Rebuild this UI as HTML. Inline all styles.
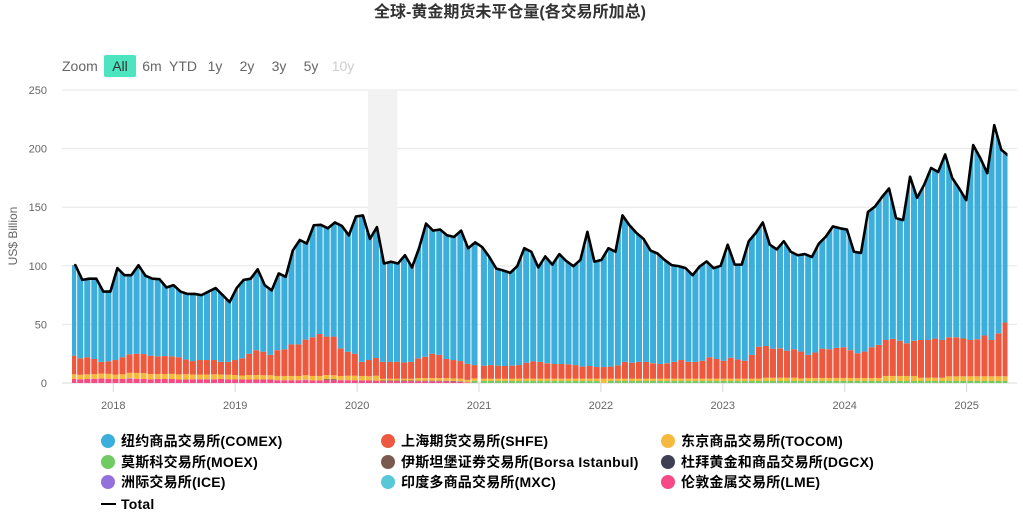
<!DOCTYPE html>
<html lang="zh">
<head>
<meta charset="utf-8">
<title>全球-黄金期货未平仓量(各交易所加总)</title>
<style>
html,body{margin:0;padding:0;background:#fff;}
body{width:1023px;height:513px;overflow:hidden;}
svg{display:block;}
text{font-family:"Liberation Sans","Noto Sans CJK SC",sans-serif;}
.rs{font-size:14px;fill:#666;text-anchor:middle;}
.lg{font-size:14px;font-weight:bold;fill:#000;letter-spacing:0.2px;}
.ax{font-size:11px;fill:#666;}
</style>
</head>
<body>
<svg id="chart" xmlns="http://www.w3.org/2000/svg" width="1023" height="513" viewBox="0 0 1023 513">
  <rect x="0" y="0" width="1023" height="513" fill="#fff"/>
  <text x="510" y="17" text-anchor="middle" font-size="16" font-weight="bold" fill="#333">全球-黄金期货未平仓量(各交易所加总)</text>

  <g>
    <text x="62" y="71" font-size="14" fill="#666">Zoom</text>
    <g>
      <rect x="104" y="55" width="32" height="22" rx="2" fill="#4de5c0"/>
      <text class="rs" x="120" y="71" style="fill:#333">All</text>
    </g>
    <text class="rs" x="152" y="71">6m</text>
    <text class="rs" x="183" y="71">YTD</text>
    <text class="rs" x="215" y="71">1y</text>
    <text class="rs" x="247" y="71">2y</text>
    <text class="rs" x="279" y="71">3y</text>
    <text class="rs" x="311" y="71">5y</text>
    <text class="rs" x="343" y="71" style="fill:#ccc">10y</text>
  </g>

  <g id="grid"></g>
  <g id="bands"></g>
  <g id="bars"></g>
  <g id="axes"></g>
  <g id="lineLayer"></g>

  <text transform="translate(17,236) rotate(-90)" text-anchor="middle" font-size="12" fill="#666">US$ Billion</text>

  <g>
    <g><circle cx="108" cy="441" r="7" fill="#3baedb"/><text class="lg" x="121" y="446">纽约商品交易所(COMEX)</text></g>
    <g><circle cx="388" cy="441" r="7" fill="#ec593e"/><text class="lg" x="401" y="446">上海期货交易所(SHFE)</text></g>
    <g><circle cx="668" cy="441" r="7" fill="#f6b93f"/><text class="lg" x="681" y="446">东京商品交易所(TOCOM)</text></g>
    <g><circle cx="108" cy="462" r="7" fill="#70cb62"/><text class="lg" x="121" y="467">莫斯科交易所(MOEX)</text></g>
    <g><circle cx="388" cy="462" r="7" fill="#7a5a4e"/><text class="lg" x="401" y="467">伊斯坦堡证券交易所(Borsa Istanbul)</text></g>
    <g><circle cx="668" cy="462" r="7" fill="#3e3f55"/><text class="lg" x="681" y="467">杜拜黄金和商品交易所(DGCX)</text></g>
    <g><circle cx="108" cy="482" r="7" fill="#9370db"/><text class="lg" x="121" y="487">洲际交易所(ICE)</text></g>
    <g><circle cx="388" cy="482" r="7" fill="#56c8d8"/><text class="lg" x="401" y="487">印度多商品交易所(MXC)</text></g>
    <g><circle cx="668" cy="482" r="7" fill="#f54a85"/><text class="lg" x="681" y="487">伦敦金属交易所(LME)</text></g>
    <g><rect x="101" y="503" width="15" height="2" fill="#000"/><text class="lg" x="121" y="509">Total</text></g>
  </g>
</svg>

<script>
var yTicks = [0, 50, 100, 150, 200, 250];
var yearTicks = [2018, 2019, 2020, 2021, 2022, 2023, 2024, 2025];
var shadedYears = [2020.09, 2020.33];

var total = [
100.6,88,89,89,78,78,98,92,92,100.5,91.5,89,88.6,81.5,83.5,78,76,76,75,78,81,75,69,81,88,89,97,83.5,79,93.5,90.6,113,122,119,134.6,135,132,137,134,126,142,143,123,133,
102,103.5,102,109,98.6,115,136,130,131,126,124.7,130,115,120,116,107.7,97.7,96,94,99.7,115,112,98.6,108,101,110,104,99.7,105,129,103.5,105,115,112,143,134.6,128,123,113,110.5,105,100.6,99.7,98,92,
99.4,103.7,98,100,118,101,101,121,128,137,118,114,121,112,109,110,107.5,119,125,133.6,132,131,112,111,146,150.6,158.7,166,140.7,139,176,158,169,183.5,180,195,175,166,156,203,192,179,220,199,194
];
var comex = [
77.3,67,67,68.5,60,59.5,78.4,70,68,75.5,66.8,65.7,65.9,58.5,60.8,56,56,57.3,55.4,58.4,61.4,57,51,61.4,67,64,69,56.8,55,65.5,61.9,80,89,82.4,95.6,93.2,93,98,104.5,99.3,117,125,103.4,111.7,
84,85.5,84,91.4,80.6,94,113.6,105,107,105.5,105.1,111.3,98.2,104.7,101.2,92.4,82.9,81.5,79.2,84.4,97.7,93.5,80.6,91.2,84.8,93.8,88,84.4,91,114.5,89.9,91.4,101,97,125,117.3,110,105,96.2,94.3,88.2,82.6,80.1,80,74,
80.4,81.7,77.5,81,96.4,81,82,97,97,105.4,88.7,84.4,93.4,83.2,82.2,86,81.5,89.7,96.2,103.6,101.5,103,86.6,84.2,115.5,118.1,122,128.4,104.7,105.1,140,121.3,132.3,145.6,143.3,156,136,128,119.3,165.7,151.5,142.3,177.6,147.4
];
var shfe = [
15.9,14,14.6,12.9,9.9,10.7,12.4,14.6,15.8,16.4,16.3,15.6,15.1,15.3,14.9,14.7,12.5,11.5,12.4,12.4,12.2,10.8,11,12.8,14.6,18.2,21.2,20.1,17.4,22,22.7,27,27,30.4,33,35.8,32.8,33,23.5,20.5,18.8,12,13.8,15.1,
14.4,14.4,14.4,14,14.4,16.8,18.2,20.8,19.8,16.4,15.7,15,13.6,11.4,
11.1,11.6,11.1,10.8,11.1,11.6,13.6,14.8,14.3,13.1,12.5,12.5,12.3,11.6,10.3,10.8,9.9,9.9,10.3,11.3,14.3,13.6,14.3,14.3,13.1,12.5,13.1,14.3,15.9,14.3,14.3,
15.3,18.3,16.8,15.3,17.9,16.3,15.3,20.3,27.3,27.1,24.8,25.1,23.1,24.3,22.9,19.7,21.7,25,24.5,25.7,26.2,23.7,21.1,22.5,26.2,28.2,30.7,31.6,30,27.9,30,32.2,32.2,33.4,32.2,33.3,33.3,32.3,31,31.6,34.8,31,36.7,45.9
];
var tocom = [
4,3.8,4,4,4.3,4.2,3.8,4,4.6,5,5,4.5,4.2,4.3,4.4,4.3,4.5,4,4,4,4.2,3.8,3.8,3.8,3.4,3.8,3.8,3.6,3.6,3.6,3.6,3.6,3.6,3.8,3.8,3.8,3.8,3.6,3.6,3.8,3.8,3.8,3.6,4.2,
1.5,1.5,1.5,1.5,1.5,2.2,2.2,2.2,2.2,2.2,2.2,2.2,2.2,2,
2,2,2,2,2,2,2,2,2,2,2,2,2,2,2,2,2,3.7,2,2,2,2,2,2,2,2,2,2,2,2,2,
2,2,2,2,2,2,2,2,2,2.8,2.8,2.8,2.8,2.8,2.2,2.6,2.6,2.6,2.6,2.6,2.6,2.6,2.6,2.6,2.6,2.6,4.3,4.3,4.3,4.3,4.3,2.8,2.8,2.8,2.8,4,4,4,4,4,4,4,4,4
];
var moex = [
0,0,0,0,0,0,0,0,0,0,0,0,0,0,0,0,0,0,0,0,0,0,0,0,0,0,0,0,0,0,0,0,0,0,0,0,0,0,0,0,0,0,0,0,
0,0,0,0,0,0,0,0,0,0,0,0,0,1.7,
1.7,1.7,1.7,1.7,1.7,1.7,1.7,1.7,1.7,1.7,1.7,1.7,1.7,1.7,1.7,1.7,1.7,0,1.7,1.7,1.7,1.7,1.7,1.7,1.7,1.7,1.7,1.7,1.7,1.7,1.7,
1.7,1.7,1.7,1.7,1.7,1.7,1.7,1.7,1.7,1.7,1.7,1.7,1.7,1.7,1.7,1.7,1.7,1.7,1.7,1.7,1.7,1.7,1.7,1.7,1.7,1.7,1.7,1.7,1.7,1.7,1.7,1.7,1.7,1.7,1.7,1.7,1.7,1.7,1.7,1.7,1.7,1.7,1.7,1.7
];
var lme = [
3.4,3.2,3.4,3.6,3.8,3.6,3.4,3.4,3.6,3.6,3.4,3.2,3.4,3.4,3.4,3,3,3.2,3.2,3.2,3.2,3.4,3.2,3,3,3,3,3,3,2.4,2.4,2.4,2.4,2.4,2.2,2.2,2.4,2.4,2.4,2.4,2.4,2.2,2.2,2,
1.6,1.6,1.6,1.6,1.6,1.5,1.5,1.5,1.5,1.4,1.2,1,0.5,0.2,
0,0,0,0,0,0,0,0,0,0,0,0,0,0,0,0,0,0,0,0,0,0,0,0,0,0,0,0,0,0,0,
0,0,0,0,0,0,0,0,0,0,0,0,0,0,0,0,0,0,0,0,0,0,0,0,0,0,0,0,0,0,0,0,0,0,0,0,0,0,0,0,0,0,0,0
];
var borsa = [
0,0,0,0,0,0,0,0,0,0,0,0,0,0,0,0,0,0,0,0,0,0,0,0,0,0,0,0,0,0,0,0,0,0,0,0,0,0,0,0,0,0,0,0,
0.5,0.5,0.5,0.5,0.5,0.5,0.5,0.5,0.5,0.5,0.5,0.5,0,0
];
var dgcx = [0,0,0,0,0,0,0,0,0,0,0,0,0,0,0,0,0,0,0,0,0,0,0,0,0,0,0,0,0,0,0,0,0,0,0,0,0.6,0.6];
var ice = [0,0,0,0,0,0,0,0,0.5,0,0,0,0,0,0,0,0,0,0,0,0,0,0,0,0,0,0,0,0,0,0,0,0,0.4];
var mxc = [0];

var stackOrder = [
  {key: 'lme', values: lme, color: '#f54a85'},
  {key: 'mxc', values: mxc, color: '#56c8d8'},
  {key: 'ice', values: ice, color: '#9370db'},
  {key: 'dgcx', values: dgcx, color: '#3e3f55'},
  {key: 'borsa', values: borsa, color: '#7a5a4e'},
  {key: 'moex', values: moex, color: '#70cb62'},
  {key: 'tocom', values: tocom, color: '#f6b93f'},
  {key: 'shfe', values: shfe, color: '#ec593e'},
  {key: 'comex', values: comex, color: '#3baedb'}
];

var NS = 'http://www.w3.org/2000/svg';
function yScale(v) { return 383 - v * 1.172; }
function xBar(i) { return i <= 57 ? 73.2 + 7.04 * i : 483.9 + 7.05 * (i - 58); }
function xLine(i) { return 75.3 + 7.015 * i; }
function xYear(y) { return 113.3 + 121.9 * (y - 2018); }
function lineValueAt(x) {
  var p = (x - 75.3) / 7.015;
  if (p <= 0) { return total[0]; }
  if (p >= total.length - 1) { return total[total.length - 1]; }
  var a = Math.floor(p);
  return total[a] + (total[a + 1] - total[a]) * (p - a);
}
function make(tag, attrs, parent) {
  var el = document.createElementNS(NS, tag);
  for (var k in attrs) { el.setAttribute(k, attrs[k]); }
  parent.appendChild(el);
  return el;
}

var gridLayer = document.getElementById('grid');
var bandLayer = document.getElementById('bands');
var barLayer = document.getElementById('bars');
var axisLayer = document.getElementById('axes');
var lineLayer = document.getElementById('lineLayer');

yTicks.forEach(function (t) {
  var line = make('rect', {x: 62, y: yScale(t) - 0.5, width: 955, height: 1, fill: t === 0 ? '#d8d8d8' : '#e6e6e6'}, gridLayer);
  
  
  var label = make('text', {'class': 'ax', x: 47, y: yScale(t) + 4, 'text-anchor': 'end'}, gridLayer);
  
  
  label.textContent = String(t);
});

var band = make('rect', {x: xYear(shadedYears[0]), y: yScale(250), width: xYear(shadedYears[1]) - xYear(shadedYears[0]), height: yScale(0) - yScale(250), fill: '#f2f2f2'}, bandLayer);



var clip = make('clipPath', {id: 'plotClip'}, barLayer);
make('rect', {x: 72, y: 80, width: 935.5, height: 303}, clip);
barLayer.setAttribute('clip-path', 'url(#plotClip)');

var halfBar = 3.03;
for (var i = 0; i < comex.length; i++) {
  var base = 0;
  stackOrder.forEach(function (s) {
    var v = s.values[i] || 0;
    if (v <= 0) { return; }
    var cx = xBar(i);
    var seg;
    if (s.key === 'comex') {
      var pts = [(cx - halfBar).toFixed(2) + ',' + yScale(base).toFixed(2)];
      var topVal = base + v;
      for (var k = 0; k <= 6; k++) {
        var px = cx - halfBar + (2 * halfBar) * k / 6;
        var offset = lineValueAt(px) - total[i];
        pts.push(px.toFixed(2) + ',' + yScale(topVal + offset).toFixed(2));
      }
      pts.push((cx + halfBar).toFixed(2) + ',' + yScale(base).toFixed(2));
      seg = make('polygon', {points: pts.join(' '), fill: s.color}, barLayer);
    } else {
      var top = yScale(base + v);
      seg = make('rect', {x: cx - halfBar, y: top, width: 2 * halfBar, height: yScale(base) - top, fill: s.color}, barLayer);
    }
    
    
    base += v;
  });
}

yearTicks.forEach(function (yr) {
  var tick = make('rect', {x: xYear(yr) - 0.5, y: 383, width: 1, height: 9, fill: '#d8d8d8'}, axisLayer);
  
  
  var label = make('text', {'class': 'ax', x: xYear(yr), y: 409, 'text-anchor': 'middle'}, axisLayer);
  
  
  label.textContent = String(yr);
});

var lineClip = make('clipPath', {id: 'lineClip'}, lineLayer);
make('rect', {x: 72, y: 80, width: 935.5, height: 303}, lineClip);
lineLayer.setAttribute('clip-path', 'url(#lineClip)');

var linePts = total.map(function (v, idx) { return xLine(idx).toFixed(2) + ',' + yScale(v).toFixed(2); });
var totalLine = make('polyline', {points: linePts.join(' '), fill: 'none', stroke: '#000', 'stroke-width': 2.6, 'stroke-linejoin': 'round', 'stroke-linecap': 'round'}, lineLayer);


</script>
</body>
</html>
